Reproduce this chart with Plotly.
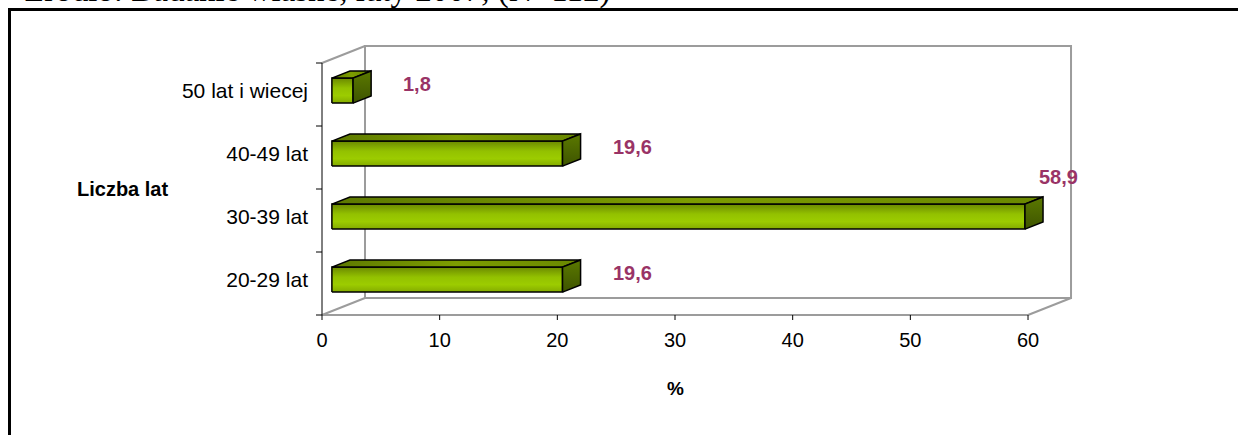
import plotly.graph_objects as go

# ---- data ----
categories = ["20-29 lat", "30-39 lat", "40-49 lat", "50 lat i wiecej"]
percent = [19.6, 58.9, 19.6, 1.8]
x_ticks = [0, 10, 20, 30, 40, 50, 60]
x_axis_max = 60
source_note = "Źródło: Badanie własne, luty 2007, (N=112)"
x_title = "%"
y_title = "Liczba lat"

# ---- page / plot geometry (pixels) ----
W, H = 1238, 435
PLOT_L, PLOT_R, PLOT_T, PLOT_B = 312, 1090, 40, 322
X0_PX = 322          # pixel column of x = 0 on the front plane
X_SCALE = 11.767     # pixels per percent
Y_BASE_PX = 315      # pixel row of the front floor edge (y = -0.5)
Y_SCALE = 63.0       # pixels per category band

x_range = [(PLOT_L - X0_PX) / X_SCALE, (PLOT_R - X0_PX) / X_SCALE]
y_range = [-0.5 - (PLOT_B - Y_BASE_PX) / Y_SCALE,
           -0.5 + (Y_BASE_PX - PLOT_T) / Y_SCALE]


def paper_x(px):
    return (px - PLOT_L) / (PLOT_R - PLOT_L)


def paper_y(py):
    return (PLOT_B - py) / (PLOT_B - PLOT_T)


# oblique projection of the depth axis
DEPTH_X = 43 / X_SCALE
DEPTH_Y = 17 / Y_SCALE
Z_FRONT, Z_BACK = 0.23, 0.65   # bar slab position inside the depth
HALF_H = 12.5 / Y_SCALE        # half the height of a bar's front face

n = len(categories)
y_lo, y_hi = -0.5, n - 0.5

WALL = "#9c9c9c"
LABEL_COLOR = "#993366"
FONT = "Liberation Sans, Arial, sans-serif"

fig = go.Figure()


def line(xs, ys, color=WALL, width=2):
    fig.add_trace(go.Scatter(x=xs, y=ys, mode="lines",
                             line=dict(color=color, width=width),
                             hoverinfo="skip", showlegend=False))


# back wall and floor / side edges
line([DEPTH_X, DEPTH_X, x_axis_max + DEPTH_X, x_axis_max + DEPTH_X, DEPTH_X],
     [y_lo + DEPTH_Y, y_hi + DEPTH_Y, y_hi + DEPTH_Y, y_lo + DEPTH_Y, y_lo + DEPTH_Y])
line([0, DEPTH_X], [y_hi, y_hi + DEPTH_Y])
line([0, DEPTH_X], [y_lo, y_lo + DEPTH_Y])
line([x_axis_max, x_axis_max + DEPTH_X], [y_lo, y_lo + DEPTH_Y])
# front value axis line
line([0, x_axis_max], [y_lo, y_lo])


def face(xs, ys, gradient, kind):
    fig.add_trace(go.Scatter(
        x=xs + [xs[0]], y=ys + [ys[0]], mode="lines", fill="toself",
        fillgradient=dict(type=kind, colorscale=gradient),
        line=dict(color="black", width=1.5),
        hoverinfo="skip", showlegend=False))


front_grad = [[0, "#84ab00"], [0.3, "#9ccc00"], [0.6, "#93c100"], [1, "#6b8900"]]
top_grad = [[0, "#5d7900"], [0.5, "#7d9d00"], [1, "#6a8800"]]
side_grad = [[0, "#3e5400"], [1, "#5b7900"]]

fx, fy = Z_FRONT * DEPTH_X, Z_FRONT * DEPTH_Y
bdx, bdy = (Z_BACK - Z_FRONT) * DEPTH_X, (Z_BACK - Z_FRONT) * DEPTH_Y

annotations = []
for i in reversed(range(n)):
    v = percent[i]
    yc = i + fy
    x1 = fx + v
    # front, top and right-hand faces of the bar
    face([fx, x1, x1, fx], [yc - HALF_H, yc - HALF_H, yc + HALF_H, yc + HALF_H],
         front_grad, "vertical")
    face([fx, x1, x1 + bdx, fx + bdx],
         [yc + HALF_H, yc + HALF_H, yc + HALF_H + bdy, yc + HALF_H + bdy],
         top_grad, "horizontal")
    face([x1, x1 + bdx, x1 + bdx, x1],
         [yc - HALF_H, yc - HALF_H + bdy, yc + HALF_H + bdy, yc + HALF_H],
         side_grad, "vertical")

    # value label: beside the bar, or above its end when there is no room
    label = f"{v:.1f}".replace(".", ",")
    lx = x1 + 48 / X_SCALE
    ly = yc + 7 / Y_SCALE
    if lx + 40 / X_SCALE > x_axis_max + DEPTH_X:
        lx = x1 + 12 / X_SCALE
        ly = yc + 40 / Y_SCALE
    annotations.append(dict(x=lx, y=ly, xref="x", yref="y", text=f"<b>{label}</b>",
                            showarrow=False, xanchor="left", yanchor="middle",
                            font=dict(family=FONT, size=20, color=LABEL_COLOR)))

# category axis line and boundary ticks
line([0, 0], [y_lo, y_hi], color="black", width=1)
for b in range(n + 1):
    line([-6 / X_SCALE, 0], [b - 0.5, b - 0.5], color="black", width=1)
# value axis ticks
for t in x_ticks:
    line([t, t], [y_lo, y_lo - 5 / Y_SCALE], color="black", width=1)

# axis titles
annotations.append(dict(x=paper_x(122), y=paper_y(189), xref="paper", yref="paper",
                        text=f"<b>{y_title}</b>", showarrow=False,
                        xanchor="center", yanchor="middle",
                        font=dict(family=FONT, size=20, color="black")))
annotations.append(dict(x=30, y=paper_y(388), xref="x", yref="paper",
                        text=f"<b>{x_title}</b>", showarrow=False,
                        xanchor="center", yanchor="middle",
                        font=dict(family=FONT, size=19, color="black")))
# source note along the top edge
annotations.append(dict(x=paper_x(22), y=paper_y(2 - 0.3375 * 33), xref="paper", yref="paper",
                        text=source_note, showarrow=False,
                        xanchor="left", yanchor="middle",
                        font=dict(family="Liberation Serif, Times New Roman, serif",
                                  size=33, color="black")))

# outer frame (left and top edges)
shapes = [
    dict(type="line", xref="paper", yref="paper",
         x0=paper_x(9.5), x1=paper_x(9.5), y0=paper_y(8), y1=paper_y(H + 5),
         line=dict(color="black", width=3)),
    dict(type="line", xref="paper", yref="paper",
         x0=paper_x(8), x1=paper_x(W + 5), y0=paper_y(9.5), y1=paper_y(9.5),
         line=dict(color="black", width=3)),
]

fig.update_layout(
    width=W, height=H,
    margin=dict(l=PLOT_L, r=W - PLOT_R, t=PLOT_T, b=H - PLOT_B, pad=0),
    paper_bgcolor="white", plot_bgcolor="white",
    showlegend=False, hovermode=False,
    annotations=annotations, shapes=shapes,
    xaxis=dict(range=x_range, tickvals=x_ticks, ticks="", showgrid=False,
               zeroline=False, showline=False, fixedrange=True,
               tickfont=dict(family=FONT, size=20, color="black"),
               ticklabelstandoff=4),
    yaxis=dict(range=y_range, tickvals=[i + fy for i in range(n)],
               ticktext=categories, ticks="", showgrid=False,
               zeroline=False, showline=False, fixedrange=True,
               tickfont=dict(family=FONT, size=21, color="black"),
               ticklabelstandoff=3),
)

fig.write_html("out.html")
